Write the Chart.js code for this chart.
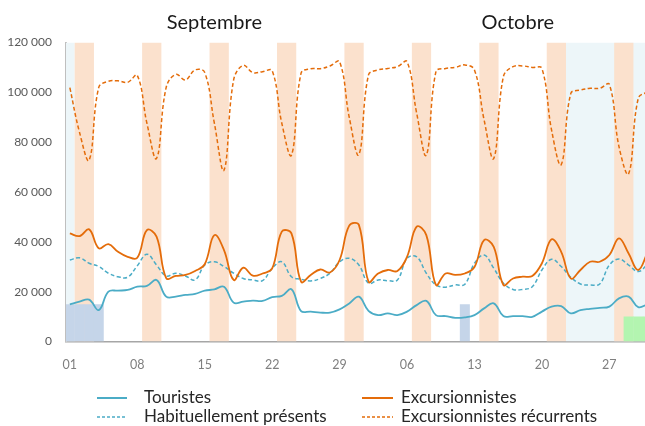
<!DOCTYPE html>
<html>
<head>
<meta charset="utf-8">
<script src="https://cdn.jsdelivr.net/npm/chart.js@4.4.1/dist/chart.umd.min.js"></script>
<style>
html,body{margin:0;padding:0;background:#fff;}
#wrap{width:645px;height:426px;position:relative;}
</style>
</head>
<body>
<div id="wrap"><canvas id="c"></canvas></div>
<script>
// Day index 0 = 1 septembre, 60 = 31 octobre
const tickDays   = [0, 7, 14, 21, 28, 35, 42, 49, 56];
const tickLabels = ['01','08','15','22','29','06','13','20','27'];
const months     = ['Septembre', 'Octobre'];
const monthCentres = [15, 46.5];

const touristes = [14900,16000,16800,12600,20000,20400,20700,22000,22300,24700,18000,18000,18700,19100,20400,20900,22000,15600,16000,16400,16300,17800,18300,21000,12200,12000,11600,11600,12900,15300,18000,12300,10600,11300,10600,12000,14600,16300,10600,10200,9500,9700,10600,13300,15300,10200,10200,10200,9900,12000,14000,14200,11300,12600,13100,13500,14000,17300,18000,13800,15000];
const excursionnistes = [43400,42300,45000,37400,39100,36000,34000,33600,44700,42100,25400,26300,26700,28300,31000,42700,36700,24700,29600,26400,27300,29300,44100,43400,24000,26700,28900,27700,32700,46500,46800,24000,27300,28700,28300,34000,46100,42700,22700,27300,26700,27300,29900,40700,38000,22700,25300,26000,26300,31400,41000,36000,25300,28700,32000,32000,34700,41400,35300,28700,36000];
const habituels = [32700,33600,31400,30100,27400,26000,25800,30400,35000,30700,26300,27400,26300,24700,30700,32000,30100,27400,25300,24700,24400,29400,32000,26000,25000,24300,25300,27400,32000,33400,30700,23400,24700,24400,24700,33400,34000,27400,22700,21800,22700,23000,31400,34700,29400,23400,20900,20900,22000,28700,33000,30100,25800,23100,22700,23100,30700,33100,30700,28100,31000];
const recurrents = [101900,84000,72800,102000,104400,104600,104000,106800,87600,73500,102000,107200,105000,109000,108000,87600,68800,105000,110800,107900,108300,108700,87600,74800,107700,109500,109500,110600,112300,90000,75000,107000,109000,109600,110300,112300,91600,74800,108300,109600,110000,111000,109000,88900,73500,106300,110300,110600,110000,109600,84900,71000,99600,100900,101600,101600,103200,78200,67300,97600,100300];

// Events (bars)
const evenementA = {days: [0,1,2,3,41], value: 15000};
const evenementB = {days: [58,59,60], value: 10000};

// Background periods: weekends (Saturday index) and school holidays [from, to]
const weekendSaturdays = [1, 8, 15, 22, 29, 36, 43, 50, 57];
const vacances = [[-1, 0.5], [51.5, 62]];

const xy = arr => arr.map((v, i) => ({x: i, y: v}));
const barXY = ev => ev.days.map(d => ({x: d, y: ev.value}));

const TEAL = '#4BACC6', ORANGE = '#E46C0A';
const FONT = 'Lato, "Open Sans", sans-serif';

const bandsPlugin = {
  id: 'bands',
  beforeDatasetsDraw(chart) {
    const {ctx, chartArea: a, scales: {x}} = chart;
    ctx.save();
    ctx.beginPath(); ctx.rect(a.left, a.top, a.right - a.left, a.bottom - a.top); ctx.clip();
    ctx.fillStyle = '#EDF6F9';
    vacances.forEach(([f, t]) => {
      const x0 = x.getPixelForValue(f), x1 = x.getPixelForValue(t);
      ctx.fillRect(x0, a.top, x1 - x0, a.bottom - a.top);
    });
    ctx.fillStyle = '#FBE1CD';
    weekendSaturdays.forEach(s => {
      const x0 = x.getPixelForValue(s - 0.5), x1 = x.getPixelForValue(s + 1.5);
      ctx.fillRect(x0, a.top, x1 - x0, a.bottom - a.top);
    });
    ctx.restore();
  }
};

const decorPlugin = {
  id: 'decor',
  afterDraw(chart) {
    const {ctx, scales: {x}} = chart;
    ctx.save();
    ctx.fillStyle = '#1a1a1a';
    ctx.font = '20px ' + FONT;
    ctx.textAlign = 'center'; ctx.textBaseline = 'middle';
    months.forEach((m, i) => ctx.fillText(m, x.getPixelForValue(monthCentres[i]), 23));
    // legend: 2 columns x 2 rows
    const lineDs = chart.data.datasets.filter(d => d.type === 'line');
    const cols = [{x0: 97, x1: 127, tx: 144}, {x0: 362, x1: 393, tx: 401}];
    const rows = [398, 417];
    ctx.font = '17px ' + FONT;
    ctx.textAlign = 'left';
    lineDs.forEach((d, i) => {
      const c = cols[i % 2], y = rows[Math.floor(i / 2)];
      ctx.strokeStyle = d.borderColor;
      ctx.lineWidth = d.borderDash ? 1.5 : 2;
      ctx.setLineDash(d.borderDash ? [3, 2] : []);
      ctx.beginPath(); ctx.moveTo(c.x0, y); ctx.lineTo(c.x1, y); ctx.stroke();
      ctx.fillStyle = '#262626';
      ctx.fillText(d.label, c.tx, y);
    });
    ctx.restore();
  }
};

new Chart(document.getElementById('c'), {
  data: {
    datasets: [
      {type: 'line', label: 'Touristes', data: xy(touristes), borderColor: TEAL, borderWidth: 1.8, pointRadius: 0, tension: 0.4, order: 1},
      {type: 'line', label: 'Excursionnistes', data: xy(excursionnistes), borderColor: ORANGE, borderWidth: 1.8, pointRadius: 0, tension: 0.4, order: 1},
      {type: 'line', label: 'Habituellement présents', data: xy(habituels), borderColor: TEAL, borderWidth: 1.5, borderDash: [4, 2.5], pointRadius: 0, tension: 0.4, order: 1},
      {type: 'line', label: 'Excursionnistes récurrents', data: xy(recurrents), borderColor: ORANGE, borderWidth: 1.5, borderDash: [4, 2.5], pointRadius: 0, tension: 0.4, order: 1},
      {type: 'bar', label: 'A', data: barXY(evenementA), backgroundColor: '#C5D5E9', borderWidth: 0, grouped: false, barPercentage: 1.04, categoryPercentage: 1, order: 5},
      {type: 'bar', label: 'B', data: barXY(evenementB), backgroundColor: '#B3F5B0', borderWidth: 0, grouped: false, barPercentage: 1.04, categoryPercentage: 1, order: 5}
    ]
  },
  options: {
    responsive: true, maintainAspectRatio: false, animation: false, devicePixelRatio: 1,
    layout: {padding: {top: 42.5, left: 0, right: 0, bottom: 0}},
    plugins: {legend: {display: false}, tooltip: {enabled: false}},
    scales: {
      x: {
        type: 'linear', min: -0.4, max: 59.7, offset: false, z: 1,
        grid: {display: false, drawTicks: false, offset: false},
        border: {display: true, color: '#A6A6A6', width: 1.5},
        afterBuildTicks: s => { s.ticks = tickDays.map(v => ({value: v})); },
        afterFit: s => { s.height = 84.5; },
        ticks: {
          padding: 16, color: '#7F7F7F', font: {family: FONT, size: 12.5},
          callback: (v) => tickLabels[tickDays.indexOf(v)] ?? ''
        }
      },
      y: {
        min: 0, max: 120000, z: 1,
        grid: {display: false, drawTicks: false},
        border: {display: true, color: '#BFBFBF', width: 2},
        afterFit: s => { s.width = 66; },
        ticks: {
          stepSize: 20000, padding: 14, color: '#595959', font: {family: FONT, size: 12},
          callback: v => String(v).replace(/\B(?=(\d{3})+(?!\d))/g, ' ')
        }
      }
    }
  },
  plugins: [bandsPlugin, decorPlugin]
});
</script>
</body>
</html>
